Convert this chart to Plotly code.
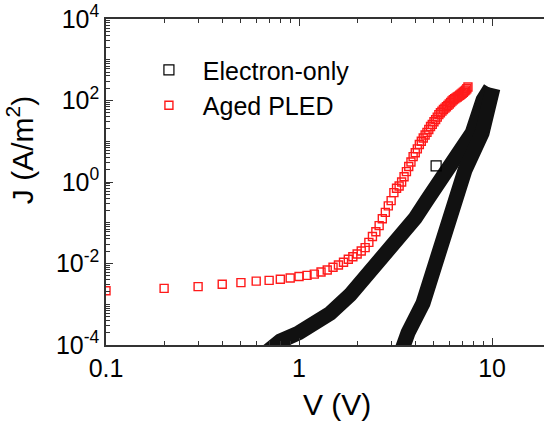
import plotly.graph_objects as go

# ---- Aged PLED (red open squares) ----
pled_V = [0.1, 0.2, 0.3, 0.4, 0.5, 0.6, 0.7, 0.8, 0.9, 1.0,
          1.1, 1.2, 1.3, 1.4, 1.5, 1.6, 1.7, 1.8, 1.9, 2.0,
          2.1, 2.2, 2.3, 2.4, 2.5, 2.6, 2.7, 2.8, 2.9, 3.0,
          3.1, 3.2, 3.3, 3.4, 3.5, 3.6, 3.7, 3.8, 3.9, 4.0,
          4.1, 4.2, 4.3, 4.4, 4.5, 4.6, 4.7, 4.8, 4.9, 5.0,
          5.1, 5.2, 5.3, 5.4, 5.5, 5.6, 5.7, 5.8, 5.9, 6.0,
          6.1, 6.2, 6.3, 6.4, 6.5, 6.6, 6.7, 6.8, 6.9, 7.0,
          7.1, 7.2, 7.3, 7.4, 7.5]
pled_J = [2.15e-3, 2.45e-3, 2.7e-3, 3.1e-3, 3.4e-3, 3.7e-3, 3.85e-3, 4.1e-3, 4.4e-3, 4.8e-3,
          5.1e-3, 5.5e-3, 6.2e-3, 6.9e-3, 8.1e-3, 9.2e-3, 1.07e-2, 1.27e-2, 1.47e-2, 1.71e-2,
          2.03e-2, 2.45e-2, 3.3e-2, 4.6e-2, 6.0e-2, 8.5e-2, 0.125, 0.18, 0.26, 0.35,
          0.55, 0.7, 0.8, 1.0, 1.35, 1.8, 2.4, 3.1, 4.2, 5.2,
          6.5, 8.3, 10.0, 12.0, 14.2, 16.5, 19.5, 23, 26, 30,
          34, 39, 45, 50, 55, 60, 65, 70, 76, 82,
          89, 97, 104, 110, 116, 122, 128, 134, 142, 150,
          160, 170, 180, 195, 214]

# ---- Electron-only device (black open squares, dense -> thick band) ----
# branch swept at lower voltage
eo_a_V = [0.66, 0.8, 1.0, 1.2, 1.45, 1.84, 2.07, 2.63, 3.0, 3.33, 3.5,
          4.0, 4.6, 5.84, 7.0, 7.88, 8.98, 9.8]
eo_a_J = [6e-5, 1.25e-4, 2.0e-4, 3.4e-4, 6.0e-4, 1.7e-3, 3.3e-3, 1.25e-2, 2.3e-2, 3.8e-2, 5.0e-2,
          0.13, 0.36, 1.97, 6.0, 15.9, 103, 200]
# steep branch
eo_b_V = [3.35, 3.46, 3.67, 4.39, 4.95, 5.71, 6.5, 7.25, 8.88, 10.0, 10.1]
eo_b_J = [6e-5, 1e-4, 2e-4, 1.07e-3, 6.9e-3, 0.045, 0.36, 2.0, 15.9, 103, 200]
# isolated point
eo_c_V = [5.13]
eo_c_J = [2.5]

# ---- axes ----
y_tickvals = [1e-4, 1e-2, 1, 100, 1e4]
y_ticktext = ["10<sup>-4</sup>", "10<sup>-2</sup>", "10<sup>0</sup>",
              "10<sup>2</sup>", "10<sup>4</sup>"]
x_tickvals = [0.1, 1, 10]
x_ticktext = ["0.1", "1", "10"]

FONT = "Liberation Sans, Arial, sans-serif"
BAND = "#111111"

fig = go.Figure()

for bv, bj in ((eo_a_V, eo_a_J), (eo_b_V, eo_b_J)):
    fig.add_trace(go.Scatter(x=bv, y=bj, mode="lines",
                             line=dict(color=BAND, width=15),
                             showlegend=False, hoverinfo="skip"))

fig.add_trace(go.Scatter(
    x=eo_c_V, y=eo_c_J, mode="markers",
    name="\u00a0\u00a0Electron-only",
    marker=dict(symbol="square-open", size=10, color="black", line=dict(width=1.2))))

fig.add_trace(go.Scatter(
    x=pled_V, y=pled_J, mode="markers", name="\u00a0\u00a0Aged PLED",
    marker=dict(symbol="square-open", size=8, color="#ff1a1a", line=dict(width=1.4))))

axis_common = dict(showgrid=False, zeroline=False, showline=True, linecolor="#333",
                   linewidth=1.5, ticks="inside", tickcolor="#333", tickwidth=1.2,
                   ticklen=7, tickfont=dict(family=FONT, size=25, color="black"))

fig.update_xaxes(type="log", range=[-1, 1.269], tickvals=x_tickvals, ticktext=x_ticktext,
                 mirror="ticks",
                 minor=dict(ticks="inside", ticklen=4, dtick="D1", tickcolor="#333",
                            tickwidth=1.0, showgrid=False),
                 **axis_common)
fig.update_yaxes(type="log", range=[-4, 4], tickvals=y_tickvals, ticktext=y_ticktext,
                 mirror=False,
                 minor=dict(ticks="inside", ticklen=4, dtick="D1", tickcolor="#333",
                            tickwidth=1.0, showgrid=False),
                 **axis_common)

fig.add_annotation(text="J (A/m<sup>2</sup>)", textangle=-90, xref="paper", yref="paper",
                   x=-0.196, y=0.598, xanchor="center", yanchor="middle", showarrow=False,
                   font=dict(family=FONT, size=30, color="black"))
fig.add_annotation(text="V (V)", xref="paper", yref="paper",
                   x=0.527, y=-0.184, xanchor="center", yanchor="middle", showarrow=False,
                   font=dict(family=FONT, size=30, color="black"))

fig.update_layout(
    width=544, height=423,
    margin=dict(l=106, r=0, t=19, b=78),
    paper_bgcolor="white", plot_bgcolor="white",
    legend=dict(x=0.098, y=0.914, xanchor="left", yanchor="top",
                bgcolor="rgba(0,0,0,0)", font=dict(family=FONT, size=25, color="black"),
                tracegroupgap=0, itemwidth=30),
    font=dict(family=FONT),
)

fig.write_html("out.html")
